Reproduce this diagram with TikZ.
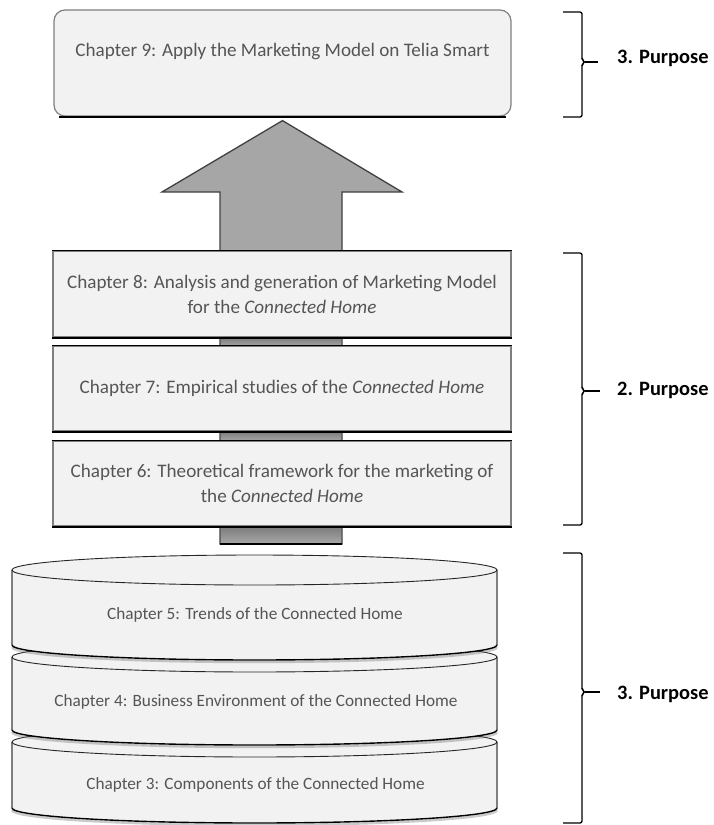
\documentclass[tikz,border=0pt]{standalone}
\usepackage{fontspec}
\setmainfont{Carlito}
\usetikzlibrary{backgrounds,calc}
\definecolor{boxfill}{HTML}{F2F2F2}
\definecolor{boxedge}{HTML}{7F7F7F}
\definecolor{txt}{HTML}{555555}
\definecolor{arrowfill}{HTML}{A6A6A6}
\definecolor{arrowedge}{HTML}{404040}
\definecolor{shaftdark}{HTML}{7A7A7A}

% one drum of the stack: #1 top centre y, #2 bottom centre y
\newcommand\drawdrum[2]{%
  \fill[boxfill] (12,#1) -- (12,#2)
     arc[start angle=180, end angle=0, x radius=242.5, y radius=15]
     -- (497,#1)
     arc[start angle=0, end angle=-180, x radius=242.5, y radius=15] -- cycle;
  \draw[boxedge, line width=1.3bp] (12,#1) -- (12,#2) (497,#1) -- (497,#2);
  \draw[black!85, line width=0.9bp] (254.5,#1) ellipse [x radius=242.5, y radius=15];
  \draw[black!60, line width=2.4bp, opacity=0.35]
     ([yshift=-2bp]12,#2) arc[start angle=180, end angle=0, x radius=242.5, y radius=15];
  \draw[black, line width=1.4bp]
     (12,#2) arc[start angle=180, end angle=0, x radius=242.5, y radius=15];
}

\begin{document}
\begin{tikzpicture}[x=1bp, y=-1bp,
  chtext/.style={font=\fontsize{19.2}{25}\selectfont, text=txt, align=center, inner sep=0pt},
  drumtext/.style={chtext, font=\fontsize{17.3}{22}\selectfont},
  chbox/.style={draw=boxedge, line width=1.2bp, fill=boxfill, minimum width=458bp,
                minimum height=85bp, inner sep=0pt, chtext},
  topbox/.style={draw=boxedge, line width=1.2bp, fill=boxfill, rounded corners=11bp,
                 minimum width=457bp, minimum height=106bp, inner sep=0pt},
  edgeline/.style={draw=black, line width=1.3bp},
  shadowline/.style={draw=black, line width=1.8bp},
  bracket/.style={draw=black, line width=1.3bp, rounded corners=2bp},
  purpose/.style={font=\fontsize{20.5}{24}\selectfont\bfseries, text=black, anchor=base west, inner sep=0pt},
]
\useasboundingbox (0,0) rectangle (714,825);

% the stack of drums, lowest first so each upper drum covers the one below
\drawdrum{742}{808}
\drawdrum{657}{730}
\drawdrum{570}{645}
\node[drumtext] (c3) at (255.5,785) {Chapter 3: Components of the Connected Home};
\node[drumtext] (c4) at (256,702) {Chapter 4: Business Environment of the Connected Home};
\node[drumtext] (c5) at (255,615) {Chapter 5: Trends of the Connected Home};

% chapter boxes
\node[topbox] (c9) at (282.5,63) {};
\node[chtext] (c9t) at ([yshift=11bp]c9.center) {Chapter 9: Apply the Marketing Model on Telia Smart};
\draw[shadowline] ([xshift=6bp]c9.south west) -- ([xshift=-6bp]c9.south east);

\node[chbox, minimum height=86bp] (c8) at (282,294)
  {Chapter 8: Analysis and generation of Marketing Model\\for the \textit{Connected Home}};
\node[chbox] (c7) at (282,388.5)
  {Chapter 7: Empirical studies of the \textit{Connected Home}};
\node[chbox] (c6) at (282,483.5)
  {Chapter 6: Theoretical framework for the marketing of\\the \textit{Connected Home}};
\foreach \b in {c8,c7,c6}{
  \draw[edgeline] (\b.north west) -- (\b.north east);
  \draw[shadowline] (\b.south west) -- (\b.south east);
}

% the broad arrow rising from the foundation to chapter 9
\begin{scope}[on background layer]
  \coordinate (tip) at ($(c9.south)+(0,4)$);
  \coordinate (tail) at (281,544);
  \draw[fill=arrowfill, draw=arrowedge, line width=1.3bp, line join=miter]
    (tip) -- (402,192) -- (342,192) -- (342,544) -- (220,544)
    -- (220,192) -- (162,192) -- cycle;
  \shade[top color=shaftdark, bottom color=arrowfill] (221,337) rectangle (341,346);
  \shade[top color=shaftdark, bottom color=arrowfill] (221,431) rectangle (341,441);
  \shade[top color=shaftdark, bottom color=arrowfill] (221,526) rectangle (341,543);
  \draw[black, line width=1.5bp] (220,544) -- (342,544);
\end{scope}

% brackets and their labels
\draw[bracket] (563,12) -- (582,12) -- (582,60) -- (585,62) -- (582,64) -- (582,117) -- (563,117);
\draw[black, line width=1.3bp] (585,62) -- (598,62);
\node[purpose] (p3a) at (617,63) {3. Purpose};

\draw[bracket] (563,253) -- (582,253) -- (582,389) -- (585,391) -- (582,393) -- (582,525) -- (563,525);
\draw[black, line width=1.3bp] (585,391) -- (600,391);
\node[purpose] (p2) at (617,395) {2. Purpose};

\draw[bracket] (563,553) -- (582,553) -- (582,690) -- (585,692) -- (582,694) -- (582,823) -- (563,823);
\draw[black, line width=1.3bp] (585,692) -- (600,692);
\node[purpose] (p3b) at (617,699) {3. Purpose};
\end{tikzpicture}
\end{document}
